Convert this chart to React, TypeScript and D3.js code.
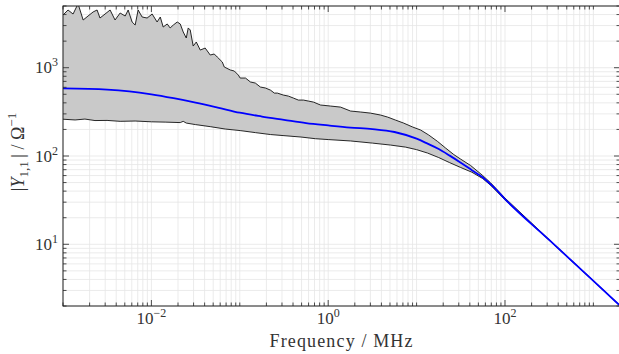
import React, { useEffect, useRef } from "react";
import * as d3 from "d3";

// mean admittance |Y11| (blue)
const freqMean = [0.001, 0.00316, 0.00562, 0.01, 0.0178, 0.0316, 0.0562, 0.1, 0.178, 0.316, 0.562, 1, 1.78, 3.16, 5.62, 10, 13.3, 17.8, 23.7, 31.6, 42.2, 56.2, 75, 100, 316, 1000, 2000];
const admMean = [583, 565, 540, 500, 452, 403, 354, 309, 280, 257, 236, 222, 210, 202, 187, 157, 138, 120, 101, 84, 69, 57, 44, 32.5, 11.2, 3.85, 2.02];

// upper envelope (noisy max)
const freqUpper = [0.001, 0.00114, 0.0013, 0.00148, 0.00169, 0.00192, 0.00219, 0.00243, 0.00262, 0.00299, 0.00341, 0.00388, 0.00443, 0.00505, 0.00546, 0.00605, 0.00655, 0.00708, 0.00786, 0.00895, 0.0102, 0.0116, 0.0126, 0.0136, 0.0151, 0.0163, 0.0177, 0.0196, 0.0212, 0.0229, 0.0248, 0.0261, 0.0275, 0.0297, 0.0322, 0.0357, 0.0406, 0.0463, 0.0514, 0.0556, 0.0634, 0.0668, 0.0782, 0.0867, 0.0962, 0.101, 0.116, 0.132, 0.15, 0.171, 0.195, 0.222, 0.246, 0.266, 0.311, 0.355, 0.404, 0.46, 0.525, 0.598, 0.681, 0.818, 1.06, 1.38, 1.79, 2.32, 3.01, 3.91, 4.7, 5.78, 7.13, 9.02, 11.1, 13.7, 17.3, 21.3, 26.3, 31.6, 40.9, 56, 69, 100, 316, 1000, 2000];
const admUpper = [3950, 4505, 4055, 5300, 3470, 3850, 4280, 4505, 3655, 4055, 4505, 3470, 4165, 3850, 4505, 3295, 3045, 4505, 3750, 3655, 4055, 3295, 3750, 2890, 3130, 2820, 3045, 3295, 3130, 2540, 2170, 2820, 2675, 1760, 1955, 1585, 1670, 1393, 1430, 1322, 1160, 1018, 942, 917, 826, 764, 764, 689, 670, 604, 589, 558, 516, 516, 490, 477, 453, 430, 430, 419, 408, 378, 368, 358, 323, 315, 306, 291, 276, 255, 236, 213, 197, 173, 146, 123, 104, 92, 78, 60, 49.5, 33.4, 11.3, 3.87, 2.03];

// lower envelope (min)
const freqLower = [0.001, 0.00137, 0.00177, 0.0023, 0.00315, 0.00443, 0.00655, 0.01, 0.0143, 0.0212, 0.0229, 0.0248, 0.0314, 0.0463, 0.0686, 0.101, 0.15, 0.222, 0.316, 0.493, 0.718, 1, 1.79, 3.16, 5.08, 7.52, 10, 13.3, 17.8, 23.7, 31.6, 42.1, 56, 69, 100, 316, 1000, 2000];
const admLower = [261, 256, 262, 252, 253, 247, 249, 244, 242, 239, 247, 236, 227, 215, 202, 194, 184, 175, 170, 164, 157, 153.5, 148, 140, 133, 126, 118, 108, 96, 84, 74, 65.6, 55.5, 46.5, 31.9, 11.1, 3.83, 2.01];

const xLabelExps = [-2, 0, 2];
const yLabelExps = [1, 2, 3];

const W = 619;
const H = 354;
const FONT = "Liberation Serif";

export default function App() {
  const ref = useRef<SVGSVGElement>(null);

  useEffect(() => {
    const svg = d3.select(ref.current);
    svg.selectAll("*").remove();

    const left = 63, right = 620, top = 6, bottom = 306;
    const x = d3.scaleLog().domain([1e-3, 2e3]).range([left, right]);
    const y = d3.scaleLog().domain([2, 5000]).range([bottom, top]);

    const isDecade = (v: number) => Math.abs(Math.log10(v) - Math.round(Math.log10(v))) < 1e-6;

    svg.append("rect").attr("width", W).attr("height", H).attr("fill", "#fff");

    svg.append("defs").append("clipPath").attr("id", "plot-clip")
      .append("rect").attr("x", left).attr("y", top).attr("width", right - left).attr("height", bottom - top);

    // grid
    const grid = svg.append("g").attr("stroke", "#e6e6e6").attr("stroke-width", 0.8);
    x.ticks().forEach((v) => {
      grid.append("line").attr("x1", x(v)).attr("x2", x(v)).attr("y1", top).attr("y2", bottom);
    });
    y.ticks().forEach((v) => {
      grid.append("line").attr("y1", y(v)).attr("y2", y(v)).attr("x1", left).attr("x2", right);
    });

    const upper = freqUpper.map((f, i) => [f, admUpper[i]] as [number, number]);
    const lower = freqLower.map((f, i) => [f, admLower[i]] as [number, number]);
    const mean = freqMean.map((f, i) => [f, admMean[i]] as [number, number]);

    const line = d3.line<[number, number]>().x((d) => x(d[0])).y((d) => y(d[1]));

    const plot = svg.append("g").attr("clip-path", "url(#plot-clip)");

    plot.append("path")
      .attr("d", line([...upper, ...lower.slice().reverse()]) + "Z")
      .attr("fill", "#c9c9c9")
      .attr("stroke", "none");

    plot.append("path").attr("d", line(upper)).attr("fill", "none")
      .attr("stroke", "#111").attr("stroke-width", 0.9).attr("stroke-linejoin", "round");
    plot.append("path").attr("d", line(lower)).attr("fill", "none")
      .attr("stroke", "#111").attr("stroke-width", 0.9).attr("stroke-linejoin", "round");

    const smooth = d3.line<[number, number]>().x((d) => x(d[0])).y((d) => y(d[1])).curve(d3.curveMonotoneX);
    plot.append("path").attr("d", smooth(mean)).attr("fill", "none")
      .attr("stroke", "#0000ff").attr("stroke-width", 1.8);

    // frame
    svg.append("rect").attr("x", left).attr("y", top).attr("width", right - left).attr("height", bottom - top)
      .attr("fill", "none").attr("stroke", "#222").attr("stroke-width", 1);

    // ticks (inward, all four sides)
    const ticks = svg.append("g").attr("stroke", "#222").attr("stroke-width", 0.8);
    x.ticks().forEach((v) => {
      const major = isDecade(v) && Math.round(Math.log10(v)) % 2 === 0;
      const len = major ? 6 : 3.5;
      ticks.append("line").attr("x1", x(v)).attr("x2", x(v)).attr("y1", bottom).attr("y2", bottom - len);
      ticks.append("line").attr("x1", x(v)).attr("x2", x(v)).attr("y1", top).attr("y2", top + len);
    });
    y.ticks().forEach((v) => {
      const len = isDecade(v) ? 6 : 3.5;
      ticks.append("line").attr("y1", y(v)).attr("y2", y(v)).attr("x1", left).attr("x2", left + len);
      ticks.append("line").attr("y1", y(v)).attr("y2", y(v)).attr("x1", right).attr("x2", right - len);
    });

    const fmtExp = (e: number) => (e < 0 ? "\u2212" + Math.abs(e) : String(e));

    xLabelExps.forEach((e) => {
      const t = svg.append("text").attr("x", x(Math.pow(10, e))).attr("y", 324)
        .attr("text-anchor", "middle").style("font-family", FONT).style("font-size", "17px").attr("fill", "#333");
      t.append("tspan").text("10");
      t.append("tspan").attr("dy", -7).style("font-size", "12px").text(fmtExp(e));
    });

    yLabelExps.forEach((e) => {
      const t = svg.append("text").attr("x", 58).attr("y", y(Math.pow(10, e)) + 5.5)
        .attr("text-anchor", "end").style("font-family", FONT).style("font-size", "17px").attr("fill", "#333");
      t.append("tspan").text("10");
      t.append("tspan").attr("dy", -7).style("font-size", "12px").text(fmtExp(e));
    });

    svg.append("text").attr("x", (left + right) / 2 - 0.5).attr("y", 347)
      .attr("text-anchor", "middle").style("font-family", FONT).style("font-size", "18px").attr("fill", "#333")
      .attr("textLength", 143).attr("lengthAdjust", "spacing")
      .text("Frequency / MHz");

    const yl = svg.append("text").attr("transform", `translate(24,152) rotate(-90)`)
      .attr("text-anchor", "middle").style("font-family", FONT).style("font-size", "18px").attr("fill", "#333");
    yl.append("tspan").text("|");
    yl.append("tspan").style("font-style", "italic").text("Y");
    yl.append("tspan").attr("dy", 4).style("font-size", "13px").text("1,1");
    yl.append("tspan").attr("dy", -4).text("\u2009| / \u03a9");
    yl.append("tspan").attr("dy", -8).style("font-size", "13px").text("\u22121");
  }, []);

  return <svg ref={ref} width={W} height={H} style={{ position: "absolute", left: 0, top: 0 }} />;
}
